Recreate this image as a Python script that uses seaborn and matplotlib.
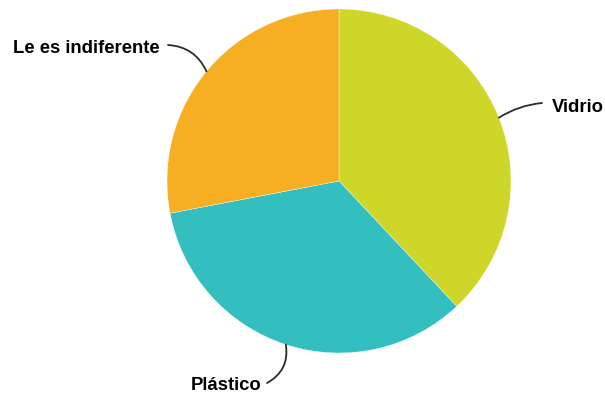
import numpy as np
import matplotlib
matplotlib.use("Agg")
import matplotlib.pyplot as plt
import seaborn as sns

# Preferred material share
categories = ["Vidrio", "Plástico", "Le es indiferente"]
shares = [38, 34, 28]
colors = ["#CFD62A", "#33BEBF", "#F6AE22"]

sns.set_theme(style="white")
plt.rcParams["font.family"] = ["Liberation Sans", "DejaVu Sans"]

W, H = 605, 394
fig = plt.figure(figsize=(W / 100, H / 100), dpi=100)
cx, cy, r = 339, 181, 172
ax = fig.add_axes([(cx - r) / W, (H - cy - r) / H, 2 * r / W, 2 * r / H])

wedges, _ = ax.pie(shares, colors=colors, startangle=90, counterclock=False,
                   wedgeprops=dict(edgecolor="white", linewidth=0.25), radius=1.0)
ax.set_xlim(-1, 1)
ax.set_ylim(-1, 1)
ax.set_aspect("equal")
ax.axis("off")

def px(x, y):
    """pixel position -> pie data coordinates"""
    return ((x - cx) / r, (cy - y) / r)

# label layout: (line end at label, text anchor, ha, curvature)
layout = {
    "Vidrio": (px(542, 103), px(552, 112), "left", 0.12),
    "Plástico": (px(267, 383), px(262, 390), "right", 0.35),
    "Le es indiferente": (px(168, 45), px(160, 53), "right", -0.3),
}

for w, name in zip(wedges, categories):
    mid = np.deg2rad((w.theta1 + w.theta2) / 2)
    edge = (np.cos(mid) * w.r, np.sin(mid) * w.r)
    line_end, txt, ha, rad = layout[name]
    ax.annotate("", xy=edge, xytext=line_end, annotation_clip=False,
                arrowprops=dict(arrowstyle="-", color="#2b2b2b", lw=1.3,
                                shrinkA=0, shrinkB=0,
                                connectionstyle=f"arc3,rad={rad}"))
    ax.text(txt[0], txt[1], name, ha=ha, va="baseline", fontsize=13.3,
            fontweight="bold", color="black", clip_on=False)

fig.savefig("out.png", dpi=100)
